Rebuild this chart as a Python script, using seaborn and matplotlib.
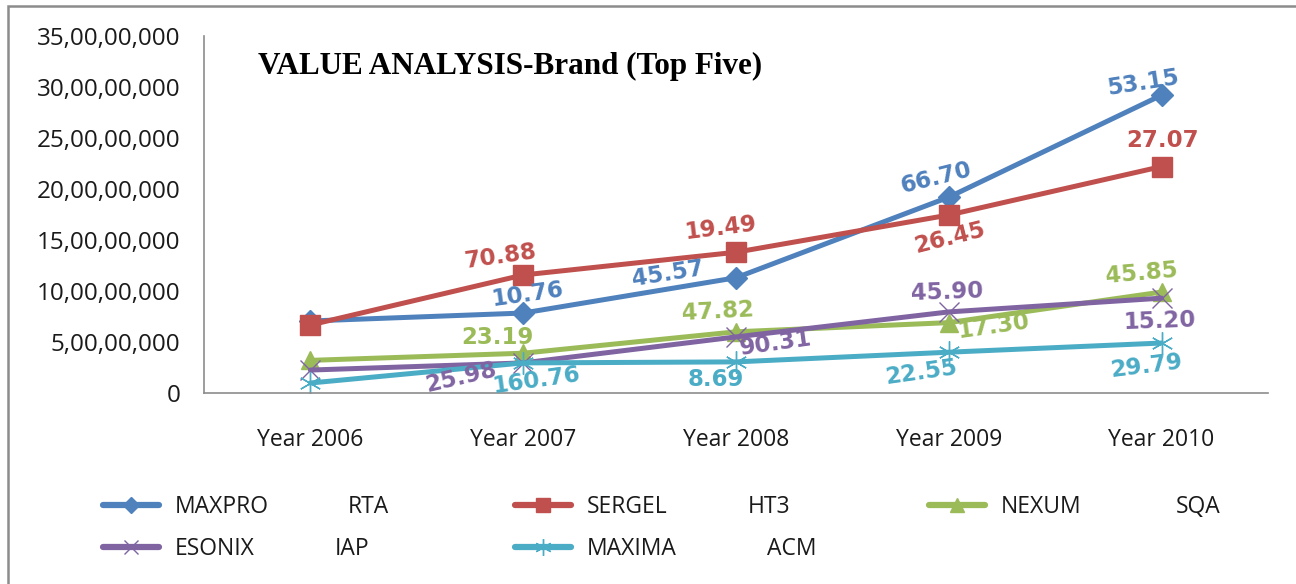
import matplotlib
matplotlib.use("Agg")
import matplotlib.pyplot as plt
import matplotlib.ticker as mticker
from matplotlib.patches import Rectangle
from matplotlib.lines import Line2D
import seaborn as sns
import pandas as pd

# ---------------- data ----------------
years = ["Year 2006", "Year 2007", "Year 2008", "Year 2009", "Year 2010"]
brands = ["MAXPRO", "SERGEL", "NEXUM", "ESONIX", "MAXIMA"]
codes = ["RTA", "HT3", "SQA", "IAP", "ACM"]

maxpro = [7.06e7, 7.84e7, 11.3e7, 19.2e7, 29.2e7]
sergel = [6.67e7, 11.57e7, 13.8e7, 17.45e7, 22.2e7]
nexum = [3.2e7, 3.9e7, 6.0e7, 6.9e7, 9.9e7]
esonix = [2.25e7, 2.95e7, 5.5e7, 7.95e7, 9.3e7]
maxima = [0.98e7, 2.95e7, 3.05e7, 4.0e7, 4.9e7]

maxpro_labels = [None, "10.76", "45.57", "66.70", "53.15"]
sergel_labels = [None, "70.88", "19.49", "26.45", "27.07"]
nexum_labels = [None, "23.19", "47.82", "17.30", "45.85"]
esonix_labels = [None, "25.98", "90.31", "45.90", "15.20"]
maxima_labels = [None, "160.76", "8.69", "22.55", "29.79"]

y_ticks = [0, 5e7, 10e7, 15e7, 20e7, 25e7, 30e7, 35e7]
title = "VALUE ANALYSIS-Brand (Top Five)"

values = [maxpro, sergel, nexum, esonix, maxima]
labels = [maxpro_labels, sergel_labels, nexum_labels, esonix_labels, maxima_labels]

# ---------------- styles ----------------
colors = ["#4F81BD", "#C0504D", "#9BBB59", "#8064A2", "#4BACC6"]
markers = ["D", "s", "^", "x", (6, 2, 0)]
msizes = [11, 14, 13, 14, 16]
mews = [1, 1, 1, 1.0, 1.0]

# label offsets in pixels (dx, dy) and rotations, per series per year
offsets = [
    [None, (4, 19), (-68, 4), (-13, 19), (-19, 12)],
    [None, (-23, 18), (-15, 24), (1, -23), (1, 26)],
    [None, (-26, 16), (-18, 20), (45, -4), (-20, 19)],
    [None, (-62, -15), (40, -7), (-2, 20), (-2, -23)],
    [None, (13, -17), (-20, -18), (-28, -20), (-15, -23)],
]
rots = [
    [0, 8, 9, 14, 9],
    [0, 8, 7, 14, 0],
    [0, 0, 3, 8, 5],
    [0, 13, 8, 2, 2],
    [0, 8, 0, 8, 7],
]

W, H = 1296, 584
sns.set_theme(style="white")
plt.rcParams["font.family"] = ["Open Sans", "DejaVu Sans"]

fig = plt.figure(figsize=(W / 100, H / 100), dpi=100)
ax = fig.add_axes([204 / W, 1 - 393 / H, (1268 - 204) / W, (393 - 36) / H])

for b, vals, c, m, ms, mew in zip(brands, values, colors, markers, msizes, mews):
    d = pd.DataFrame({"Year": years, "Value": vals})
    sns.lineplot(data=d, x="Year", y="Value", color=c, marker=m, markersize=ms,
                 markeredgewidth=mew, markeredgecolor=c, markerfacecolor=c,
                 sort=False, linewidth=3.6, ax=ax, legend=False)

for line in ax.lines:
    line.set_solid_joinstyle("round")

# data labels
for si, (vals, labs) in enumerate(zip(values, labels)):
    for xi, (v, lab) in enumerate(zip(vals, labs)):
        if lab is None:
            continue
        ax.annotate(lab, xy=(xi, v), xytext=offsets[si][xi], textcoords="offset pixels",
                    ha="center", va="center", fontsize=16.5, fontweight="bold",
                    family="DejaVu Sans", color=colors[si], rotation=rots[si][xi],
                    rotation_mode="anchor")

ax.set_xlim(-0.5, 4.5)
ax.set_ylim(0, 35e7)
ax.set_yticks(y_ticks)


def indian(v, pos=None):
    n = int(round(v))
    s = str(n)
    if len(s) <= 3:
        return s
    last3 = s[-3:]
    rest = s[:-3]
    parts = []
    while len(rest) > 2:
        parts.insert(0, rest[-2:])
        rest = rest[:-2]
    if rest:
        parts.insert(0, rest)
    return ",".join(parts + [last3])


ax.yaxis.set_major_formatter(mticker.FuncFormatter(indian))
ax.set_xlabel("")
ax.set_ylabel("")
ax.tick_params(axis="both", length=0, labelcolor="#1a1a1a")
ax.tick_params(axis="y", pad=17, labelsize=17.5)
ax.tick_params(axis="x", pad=25, labelsize=16.5)
for sp in ["top", "right"]:
    ax.spines[sp].set_visible(False)
for sp in ["left", "bottom"]:
    ax.spines[sp].set_color("#8c8c8c")
    ax.spines[sp].set_linewidth(1.2)
ax.grid(False)

# title inside plot
fig.text(258 / W, 1 - 66 / H, title, ha="left", va="center",
         fontsize=22.4, fontweight="bold", family="Liberation Serif", color="black")

# legend (one entry per block)
leg_pos = [(103, 507), (515, 507), (929, 507), (103, 549), (515, 549)]
code_pos = [(348, 507), (748, 507), (1176, 507), (335, 549), (767, 549)]
for i in range(5):
    h = Line2D([], [], color=colors[i], lw=4.5, marker=markers[i], markersize=msizes[i] * 0.75,
               markeredgewidth=mews[i], markeredgecolor=colors[i], markerfacecolor=colors[i],
               solid_capstyle="round")
    lg = fig.legend([h], [brands[i]], loc="center left",
                    bbox_to_anchor=(leg_pos[i][0] / W, 1 - leg_pos[i][1] / H),
                    frameon=False, fontsize=16.5, borderpad=0, borderaxespad=0,
                    handlelength=2.45, handletextpad=0.7)
    for t in lg.get_texts():
        t.set_color("#1a1a1a")
    fig.text(code_pos[i][0] / W, 1 - code_pos[i][1] / H, codes[i], ha="left", va="center",
             fontsize=16.5, color="#1a1a1a")

# outer border
fig.patches.append(Rectangle((8 / W, -0.05), 1.1, 1 - 6 / H + 0.05, transform=fig.transFigure,
                             fill=False, edgecolor="#8c8c8c", linewidth=1.8, zorder=10))

fig.savefig("out.png", dpi=100)
